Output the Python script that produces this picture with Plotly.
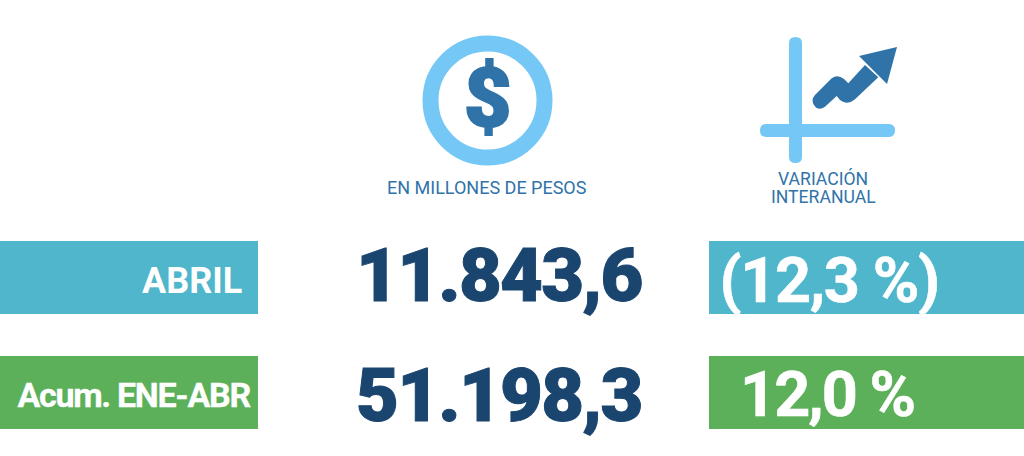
#!/usr/bin/env python3

import plotly.graph_objects as go

# data
categories = ['ABRIL', 'Acum. ENE-ABR']
amounts = ['11.843,6', '51.198,3']
variations = ['(12,3 %)', '12,0 %']
header_amounts = 'EN MILLONES DE PESOS'
header_variation = ['VARIACIÓN', 'INTERANUAL']

light_blue = '#75C8F5'
dark_blue = '#2F73A8'
navy = '#1A456F'
row_colors = ['#50B6CB', '#5DB05A']
font = 'Roboto'

fig = go.Figure()


def add_text(text, x, y, size, color, xanchor='center', weight=700):
    fig.add_annotation(
        text=text, x=x, y=y, xref='x', yref='y', xanchor=xanchor, yanchor='middle',
        showarrow=False, borderpad=0, align='center',
        font=dict(family=font, size=size, color=color, weight=weight),
    )


# Colored row bands
for y0, y1, color in zip([241, 356], [314, 429], row_colors):
    fig.add_shape(type='rect', x0=0, x1=258, y0=y0, y1=y1, fillcolor=color, line_width=0, layer='below')
    fig.add_shape(type='rect', x0=709, x1=1024, y0=y0, y1=y1, fillcolor=color, line_width=0, layer='below')

# Dollar icon
fig.add_shape(type='circle', x0=430.5, x1=544.5, y0=43.5, y1=157.5, line=dict(color=light_blue, width=16))
add_text('$', 488, 98, 82, dark_blue, weight=900)
add_text(header_amounts, 487, 187, 18, dark_blue, weight=400)

# Chart icon: rounded axes
fig.add_shape(type='path', line_width=0, fillcolor=light_blue,
              path='M 789 43 Q 789 37 795.5 37 Q 802 37 802 43 L 802 157 Q 802 163 795.5 163 Q 789 163 789 157 Z')
fig.add_shape(type='path', line_width=0, fillcolor=light_blue,
              path='M 766 124 L 889 124 Q 895 124 895 130.5 Q 895 137 889 137 L 766 137 Q 760 137 760 130.5 Q 760 124 766 124 Z')

# Chart icon: rising arrow
fig.add_shape(type='path', line_width=0, fillcolor=dark_blue,
              path='M 815 95 L 831.7 78.3 Q 837.7 74 844 79 L 848.3 83.3 L 865 65 L 878.3 77.3 L 855 99.3 '
                   'Q 847.3 106 840 100 L 836.7 96 L 825 106.7 Q 818.3 111.7 814 105 Q 810.7 100 815 95 Z')
fig.add_shape(type='path', line_width=0, fillcolor=dark_blue, path='M 897 47 L 859 56 L 887 84 Z')
for line, y in zip(header_variation, [178, 197]):
    add_text(line, 823, y, 17.6, dark_blue, weight=400)

# Rows
for label, label_x, y, size in zip(categories, [243, 258.5], [281, 395], [36, 34]):
    add_text(label, label_x, y, size, 'white', xanchor='right')
for amount, y in zip(amounts, [275, 395]):
    add_text(amount, 499, y, 74, navy, weight=900)
for variation, x, y in zip(variations, [829, 827], [280, 394]):
    add_text(variation, x, y, 63, 'white')

fig.update_layout(
    width=1024, height=456,
    margin=dict(l=0, r=0, t=0, b=0),
    paper_bgcolor='white', plot_bgcolor='white',
    showlegend=False,
    xaxis=dict(range=[0, 1024], visible=False, fixedrange=True),
    yaxis=dict(range=[456, 0], visible=False, fixedrange=True),
)

# the original lettering is tighter and a bit heavier than plain Roboto bold
post_script = """
document.body.style.margin = '0';
var tweaks = {
  '$': ['0', '2'],
  'Acum. ENE-ABR': ['-1.3px', '0.3'],
  '(12,3 %)': ['-1.4px', '0.6'],
  '12,0 %': ['-2px', '0.6'],
  '11.843,6': ['-1.75px', '1'],
  '51.198,3': ['-1.75px', '1']
};
document.querySelectorAll('.annotation-text').forEach(function (t) {
  var tweak = tweaks[t.textContent];
  if (!tweak) return;
  t.style.letterSpacing = tweak[0];
  t.style.stroke = t.style.fill;
  t.style.strokeWidth = tweak[1];
});
"""
fig.write_html("out.html", config={'displayModeBar': False}, post_script=post_script)
